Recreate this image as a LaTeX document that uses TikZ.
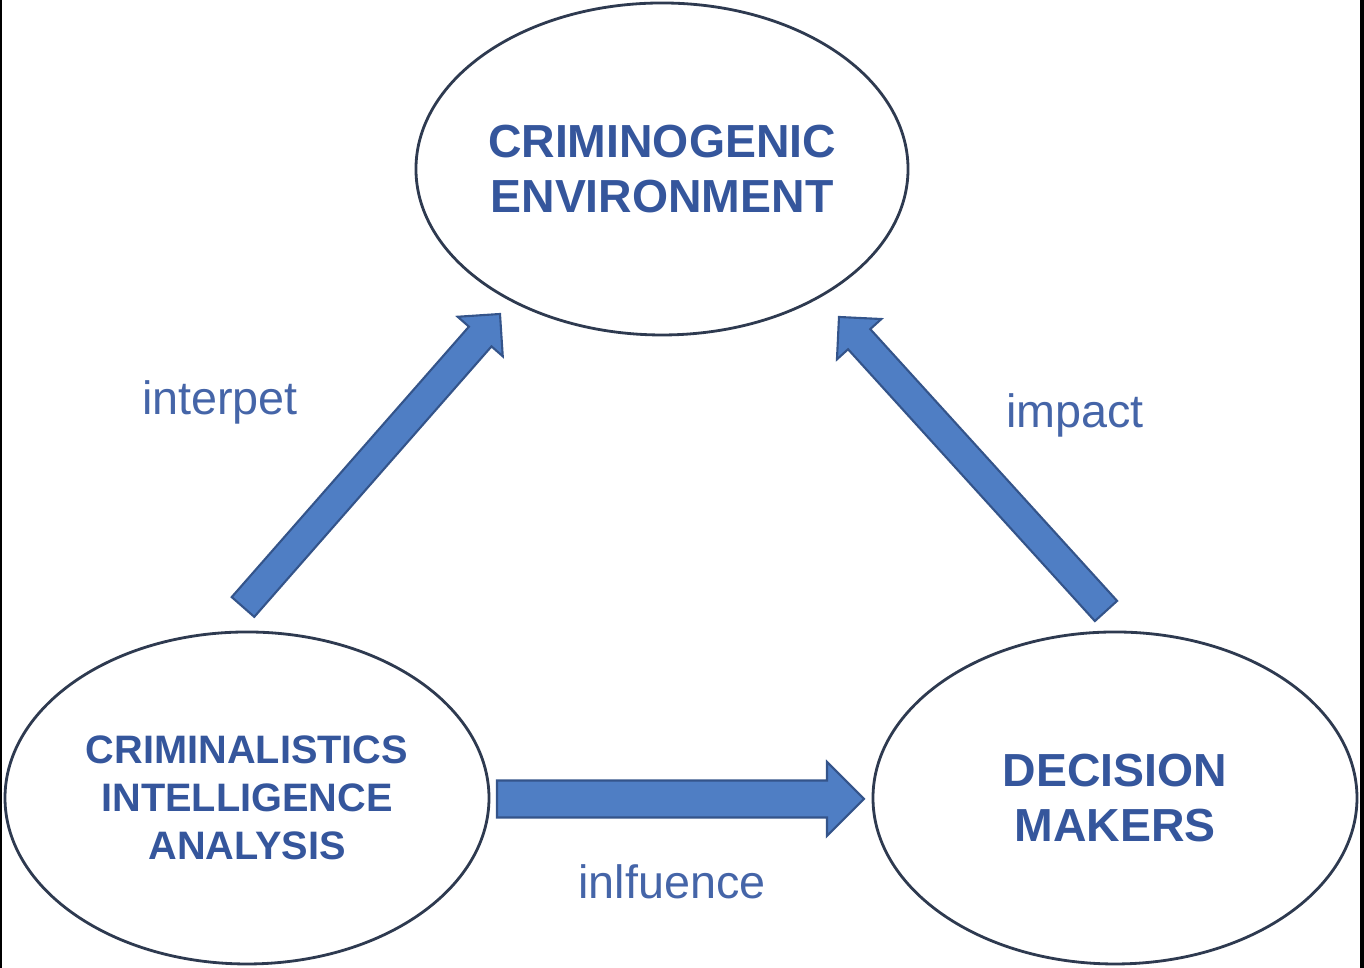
\documentclass[tikz,border=0pt]{standalone}
\usepackage{fontspec}
\setmainfont{Liberation Sans}
\usepackage{tikz}
\usetikzlibrary{shapes.geometric}
\usetikzlibrary{calc}

\definecolor{textblue}{HTML}{35569C}
\definecolor{labelblue}{HTML}{4565A8}
\definecolor{arrowblue}{HTML}{4F7EC4}
\definecolor{arrowedge}{HTML}{34548A}
\definecolor{rimgray}{HTML}{2E3A50}

% block arrow: #1 half shaft width, #2 from, #3 to
\newcommand{\blockarrow}[3][0.15cm]{%
  \coordinate (hb) at ($(#3)!2*#1!(#2)$);
  \filldraw[blockarrow]
    ($(#2)!#1!90:(#3)$) -- ($(hb)!#1!-90:(#2)$) -- ($(hb)!2*#1!-90:(#2)$)
    -- (#3) -- ($(hb)!2*#1!90:(#2)$) -- ($(hb)!#1!90:(#2)$)
    -- ($(#2)!#1!-90:(#3)$) -- cycle;
}

\begin{document}
\begin{tikzpicture}[thick, main/.style = {draw=rimgray, line width=0.8pt, ellipse, minimum width=4.84cm, minimum height=3.32cm, inner sep=0pt, align=center, text=textblue}, label/.style = {text=labelblue, font=\fontsize{13.3}{16}\selectfont}, blockarrow/.style = {fill=arrowblue, draw=arrowedge, line width=0.6pt, line join=miter}]

    \useasboundingbox (0,0) rectangle (13.64,9.68);
    \fill[black] (0,0) rectangle (0.025,9.68);
    \fill[black] (13.60,0) rectangle (13.64,9.68);

    \node [main, font=\bfseries\fontsize{13.2}{15.6}\selectfont] (env) at (6.62, 7.99) {CRIMINOGENIC\\ENVIRONMENT};
    \node [main, font=\bfseries\fontsize{11.3}{13.7}\selectfont] (cia) at (2.47, 1.70) {CRIMINALISTICS\\INTELLIGENCE\\ANALYSIS};
    \node [main, font=\bfseries\fontsize{13.2}{15.4}\selectfont] (dm) at (11.15, 1.70) {DECISION\\MAKERS};

    \node [label] (interpet) at (2.20, 5.66) {interpet};
    \node [label] (impact) at (10.75, 5.53) {impact};
    \node [label] (inlfuence) at (6.72, 0.86) {inlfuence};

    \coordinate (cia-up) at (2.43, 3.61);
    \coordinate (env-left) at (5.00, 6.54);
    \coordinate (dm-up) at (11.06, 3.57);
    \coordinate (env-right) at (8.39, 6.51);
    \coordinate (cia-right) at (4.97, 1.69);
    \coordinate (dm-left) at (8.64, 1.69);

    \blockarrow{cia-up}{env-left}
    \blockarrow{dm-up}{env-right}
    \blockarrow[0.185cm]{cia-right}{dm-left}

\end{tikzpicture}
\end{document}
